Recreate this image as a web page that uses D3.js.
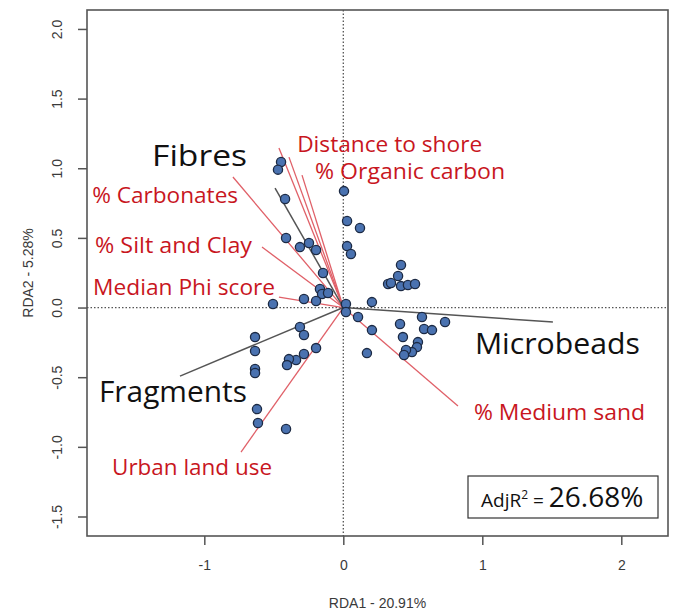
<!DOCTYPE html>
<html>
<head>
<meta charset="utf-8">
<script src="https://cdnjs.cloudflare.com/ajax/libs/d3/7.8.5/d3.min.js"></script>
<style>
  body { margin: 0; background: #fff; }
  svg { display: block; }
  .tick text { font-family: "Liberation Sans", Arial, sans-serif; font-size: 14px; fill: #3a3a3a; }
  .tick line { stroke: #555; }
  .domain { display: none; }
</style>
</head>
<body>
<div id="chart"></div>
<script>
// site scores (RDA1, RDA2)
const siteX = [-0.448, -0.470, -0.419, -0.412, -0.312, -0.247, -0.196, -0.146, -0.168, -0.153,
               -0.110, -0.283, -0.196, -0.506, 0.005, 0.027, 0.120, 0.027, 0.055, 0.415,
               0.394, 0.322, 0.343, 0.415, 0.465, 0.516, 0.206, 0.019, 0.019, 0.106,
               0.206, 0.170, 0.408, 0.566, 0.581, 0.638, 0.732, 0.429, 0.537, 0.530,
               0.494, 0.451, 0.437, -0.312, -0.283, -0.635, -0.635, -0.196, -0.283, -0.340,
               -0.391, -0.405, -0.635, -0.635, -0.621, -0.614, -0.412];
const siteY = [1.045, 0.990, 0.779, 0.499, 0.434, 0.463, 0.413, 0.248, 0.133, 0.097,
               0.104, 0.061, 0.047, 0.025, 0.836, 0.621, 0.571, 0.441, 0.384, 0.305,
               0.226, 0.169, 0.176, 0.154, 0.162, 0.169, 0.039, 0.025, -0.032, -0.068,
               -0.162, -0.327, -0.118, -0.068, -0.154, -0.162, -0.104, -0.212, -0.248, -0.284,
               -0.320, -0.305, -0.341, -0.140, -0.197, -0.212, -0.312, -0.291, -0.334, -0.377,
               -0.370, -0.413, -0.441, -0.470, -0.729, -0.829, -0.872];

// response (microplastic type) vectors
const respNames = ['Fibres', 'Fragments', 'Microbeads'];
const respX = [-0.491, -1.175, 1.508];
const respY = [0.858, -0.492, -0.104];

// environmental vectors (one unlabeled line near distance to shore)
const envNames = ['Distance to shore', '', '% Organic carbon', '% Carbonates', '% Silt and Clay',
                  'Median Phi score', '% Medium sand', 'Urban land use'];
const envX = [-0.463, -0.391, -0.297, -0.794, -0.585, -0.463, 0.825, -0.736];
const envY = [1.145, 1.080, 0.951, 0.937, 0.434, 0.075, -0.707, -1.037];

const xTicks = [-1, 0, 1, 2];
const yTicks = [-1.5, -1.0, -0.5, 0.0, 0.5, 1.0, 1.5, 2.0];
const xTitle = 'RDA1 - 20.91%';
const yTitle = 'RDA2 - 5.28%';
const adjR2 = '26.68%';

const width = 675, height = 611;
const plot = {left: 87, right: 668, top: 10, bottom: 536};

const x = d3.scaleLinear().domain([-1.844, 2.336]).range([plot.left, plot.right]);
const y = d3.scaleLinear().domain([2.136, -1.640]).range([plot.top, plot.bottom]);

const svg = d3.select('#chart').append('svg')
    .attr('width', width)
    .attr('height', height);

// dotted zero lines
svg.append('line')
    .attr('x1', x(0)).attr('x2', x(0))
    .attr('y1', plot.top).attr('y2', plot.bottom)
    .attr('stroke', '#555').attr('stroke-width', 1.3).attr('stroke-dasharray', '1.5,2');
svg.append('line')
    .attr('x1', plot.left).attr('x2', plot.right)
    .attr('y1', y(0)).attr('y2', y(0))
    .attr('stroke', '#555').attr('stroke-width', 1.3).attr('stroke-dasharray', '1.5,2');

// axes
svg.append('g')
    .attr('transform', 'translate(0,' + plot.bottom + ')')
    .call(d3.axisBottom(x).tickValues(xTicks).tickSize(9).tickPadding(15).tickFormat(d => String(d)))
    .selectAll('.tick line').attr('stroke-width', 1.5);

const yAxis = svg.append('g')
    .attr('transform', 'translate(' + plot.left + ',0)')
    .call(d3.axisLeft(y).tickValues(yTicks).tickSize(9).tickFormat(d => d.toFixed(1)));
yAxis.selectAll('.tick line').attr('stroke-width', 1.5);
yAxis.selectAll('.tick text')
    .attr('x', 0).attr('dy', 0)
    .attr('transform', 'translate(-25,0) rotate(-90)')
    .attr('text-anchor', 'middle');

// plot box
svg.append('rect')
    .attr('x', plot.left).attr('y', plot.top)
    .attr('width', plot.right - plot.left).attr('height', plot.bottom - plot.top)
    .attr('fill', 'none').attr('stroke', '#555').attr('stroke-width', 1.6);

// axis titles
svg.append('text')
    .attr('x', (plot.left + plot.right) / 2).attr('y', 608)
    .attr('text-anchor', 'middle')
    .style('font-family', '"Liberation Sans", Arial, sans-serif').style('font-size', '14px').style('fill', '#3a3a3a')
    .text(xTitle);
svg.append('text')
    .attr('transform', 'translate(33,' + (plot.top + plot.bottom) / 2 + ') rotate(-90)')
    .attr('text-anchor', 'middle')
    .style('font-family', '"Liberation Sans", Arial, sans-serif').style('font-size', '14px').style('fill', '#3a3a3a')
    .text(yTitle);

/* ------- vectors ------- */
svg.append('g').selectAll('line')
    .data(envX.map((d, i) => [d, envY[i]]))
    .enter().append('line')
    .attr('x1', x(0)).attr('y1', y(0))
    .attr('x2', d => x(d[0])).attr('y2', d => y(d[1]))
    .attr('stroke', '#e06068').attr('stroke-width', 1.3);

svg.append('g').selectAll('line')
    .data(respX.map((d, i) => [d, respY[i]]))
    .enter().append('line')
    .attr('x1', x(0)).attr('y1', y(0))
    .attr('x2', d => x(d[0])).attr('y2', d => y(d[1]))
    .attr('stroke', '#555').attr('stroke-width', 1.5);

/* ------- sites ------- */
svg.append('g').selectAll('circle')
    .data(siteX.map((d, i) => [d, siteY[i]]))
    .enter().append('circle')
    .attr('cx', d => x(d[0])).attr('cy', d => y(d[1]))
    .attr('r', 4.6)
    .attr('fill', '#4a72b0').attr('stroke', '#1c2a44').attr('stroke-width', 1.3);

/* ------- labels ------- */
// label anchor (left edge, baseline) in plot units and target text widths in px
const envLabelPos = [[-0.332, 1.115], null, [-0.203, 0.926], [-1.807, 0.752], [-1.786, 0.393],
                     [-1.800, 0.090], [0.940, -0.808], [-1.664, -1.202]];
const envLabelWidth = [185, 0, 190, 146, 157, 182, 171, 160];
const respLabelPos = [[-1.376, 1.016], [-1.758, -0.675], [0.947, -0.334]];
const respLabelWidth = [95, 148, 165];

svg.append('g').selectAll('text')
    .data(envNames.map((n, i) => ({name: n, pos: envLabelPos[i], w: envLabelWidth[i]})).filter(d => d.name))
    .enter().append('text')
    .attr('x', d => x(d.pos[0])).attr('y', d => y(d.pos[1]))
    .attr('textLength', d => d.w).attr('lengthAdjust', 'spacingAndGlyphs')
    .style('font-family', '"Open Sans", "Noto Sans", sans-serif').style('font-size', '21px')
    .style('fill', '#c8161e')
    .text(d => d.name);

svg.append('g').selectAll('text')
    .data(respNames.map((n, i) => ({name: n, pos: respLabelPos[i], w: respLabelWidth[i]})))
    .enter().append('text')
    .attr('x', d => x(d.pos[0])).attr('y', d => y(d.pos[1]))
    .attr('textLength', d => d.w).attr('lengthAdjust', 'spacingAndGlyphs')
    .style('font-family', '"Open Sans", "Noto Sans", sans-serif').style('font-size', '29px')
    .style('fill', '#111')
    .text(d => d.name);

/* ------- AdjR2 box ------- */
const box = svg.append('g').attr('transform', 'translate(468,476)');
box.append('rect')
    .attr('width', 190).attr('height', 42)
    .attr('fill', '#fff').attr('stroke', '#333').attr('stroke-width', 1.2);
const t = box.append('text')
    .attr('x', 13).attr('y', 31)
    .style('font-family', '"Open Sans", "Noto Sans", sans-serif').style('fill', '#111');
t.append('tspan').style('font-size', '19px').text('AdjR');
t.append('tspan').style('font-size', '12px').attr('dy', -8).text('2');
t.append('tspan').style('font-size', '19px').attr('dy', 8).text(' = ');
t.append('tspan').style('font-size', '28px').text(adjR2);
</script>
</body>
</html>
